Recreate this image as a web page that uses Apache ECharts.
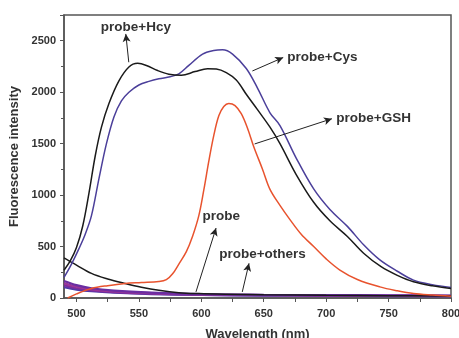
<!DOCTYPE html>
<html><head><meta charset="utf-8">
<script src="https://cdn.jsdelivr.net/npm/echarts@6/dist/echarts.min.js"></script>
<style>html,body{margin:0;padding:0;background:#fff}#c{width:459px;height:338px}</style>
</head><body><div id="c"></div>
<script>
// ---- data ----
var hcyWl = [490,495,500,505,510,515,520,526,534,542,549,556,565,574,584,595,605,612,620,628,636,645,655,663,676,690,703,717,730,744,757,770,785,800];
var hcyVal = [270,360,490,700,1020,1380,1660,1890,2110,2245,2280,2260,2210,2175,2165,2200,2228,2225,2190,2118,1980,1830,1660,1500,1200,930,750,598,435,304,220,157,118,92];

var cysWl = [490,496,502,507,512,518,524,530,536,542,550,558,566,575,582,590,601,610,617,625,636,645,655,663,676,690,703,717,730,743,757,770,785,800];
var cysVal = [200,330,480,620,800,1160,1500,1760,1915,2000,2070,2105,2130,2150,2178,2260,2370,2405,2412,2370,2230,2040,1800,1676,1360,1060,860,696,517,370,260,174,130,102];

var gshWl = [493,500,512,525,539,552,566,572,577,582,588,593,598,602,606,610,614,618,622,627,632,637,642,649,655,663,671,680,690,700,711,725,743,757,770,785,800];
var gshVal = [0,40,92,120,141,150,160,178,235,330,450,600,800,1050,1330,1580,1770,1860,1890,1870,1791,1650,1470,1252,1056,900,762,620,500,380,272,180,108,70,43,28,17];

var probeWl = [490,500,512,525,539,552,566,582,598,620,650,700,750,800];
var probeVal = [390,320,239,185,141,105,75,52,43,37,32,26,22,20];

var othersWl = [490,500,512,530,560,600,650,700,750,800];
var others1 = [165,125,95,72,52,37,31,28,26,23];
var others2 = [145,110,84,64,47,34,29,26,23,21];
var others3 = [125,95,75,58,42,31,26,23,21,19];
var others4 = [105,82,66,52,38,29,24,21,19,17];

var xLabels = [500,550,600,650,700,750,800];
var xTicks = [500,525,550,575,600,625,650,675,700,725,750,775,800];

// annotations
var annLabels = ['probe+Hcy','probe+Cys','probe+GSH','probe','probe+others'];
var annLabelPos = [[547.6,2631],[697,2337],[738,1742],[616,794],[649,422]];
var annArrowFrom = [[541.9,2291],[640.9,2206],[642.7,1497],[595.7,59],[632.8,59]];
var annArrowTo = [[539.5,2566],[665.6,2337],[704.6,1742],[611.8,680],[638.2,337]];

function pairs(xs, ys){ return xs.map(function(x,i){return [x, ys[i]];}); }

var chart = echarts.init(document.getElementById('c'), null, {renderer:'canvas'});
var FONT = 'Liberation Sans, Arial, sans-serif';
var txt = '#333';

function lineSeries(name, xs, ys, color, width){
  return {type:'line', name:name, data:pairs(xs,ys), smooth:0.35, showSymbol:false, symbol:'none',
    lineStyle:{color:color, width:width}, itemStyle:{color:color}, z:3};
}

var mlData = annArrowFrom.map(function(f,i){
  return [{coord:f, symbol:'none'}, {coord:annArrowTo[i], symbol:'arrow', symbolSize:[6,8]}];
});
var mpData = annLabels.map(function(t,i){
  return {coord:annLabelPos[i], value:t};
});

chart.setOption({
  animation:false,
  backgroundColor:'#fff',
  grid:{left:64, right:8, top:15, bottom:40, outerBoundsMode:'none', containLabel:false, show:true, borderColor:'#555', borderWidth:1.5, backgroundColor:'transparent'},
  xAxis:{type:'value', min:490, max:800,
    name:'Wavelength (nm)', nameLocation:'middle', nameGap:30,
    nameTextStyle:{fontFamily:FONT, fontSize:13, fontWeight:'bold', color:txt},
    axisLine:{show:true, lineStyle:{color:'#555', width:1.5}},
    axisTick:{show:true, inside:false, length:4, customValues:xTicks, lineStyle:{color:'#555'}},
    axisLabel:{customValues:xLabels, margin:10, fontFamily:FONT, fontSize:11, fontWeight:'bold', color:txt},
    splitLine:{show:false}},
  yAxis:{type:'value', min:0, max:2750, interval:500,
    name:'Fluorescence intensity', nameLocation:'middle', nameGap:41,
    nameTextStyle:{fontFamily:FONT, fontSize:13, fontWeight:'bold', color:txt},
    axisLine:{show:true, lineStyle:{color:'#555', width:1.5}},
    axisTick:{show:true, inside:false, length:4, lineStyle:{color:'#555'}},
    minorTick:{show:true, splitNumber:2, length:3, lineStyle:{color:'#555'}},
    axisLabel:{margin:8, showMaxLabel:false, formatter:function(v){return String(v);}, fontFamily:FONT, fontSize:11, fontWeight:'bold', color:txt},
    splitLine:{show:false}},
  series:[
    lineSeries('probe+others 4', othersWl, others4, '#4f3aa8', 2.2),
    lineSeries('probe+others 3', othersWl, others3, '#7a2c9e', 2.2),
    lineSeries('probe+others 2', othersWl, others2, '#9a3597', 2.2),
    lineSeries('probe+others 1', othersWl, others1, '#6a2ea2', 2.2),
    lineSeries('probe', probeWl, probeVal, '#1a1a1a', 1.5),
    lineSeries('probe+GSH', gshWl, gshVal, '#e8532e', 1.5),
    lineSeries('probe+Cys', cysWl, cysVal, '#4b3f9a', 1.5),
    lineSeries('probe+Hcy', hcyWl, hcyVal, '#1a1a1a', 1.5),
    {type:'line', name:'annotations', data:[], z:5,
      markLine:{silent:true, animation:false, symbol:['none','arrow'],
        lineStyle:{color:'#222', width:1, type:'solid'}, label:{show:false},
        data:mlData},
      markPoint:{silent:true, animation:false, symbol:'circle', symbolSize:0,
        label:{show:true, position:'inside', formatter:function(p){return p.value;},
          fontFamily:FONT, fontSize:13.5, fontWeight:'bold', color:txt},
        data:mpData}
    }
  ]
});
</script></body></html>
